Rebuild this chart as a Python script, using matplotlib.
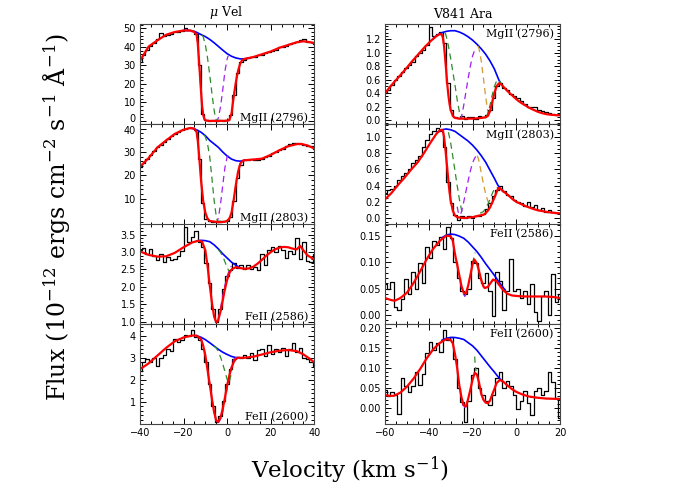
import matplotlib
matplotlib.use("Agg")
import matplotlib.pyplot as plt
import numpy as np
from matplotlib.ticker import AutoMinorLocator, FormatStrFormatter, MultipleLocator
from matplotlib.transforms import ScaledTranslation

# velocity grids of the observed spectra (km/s)
VEL_MUVEL = np.arange(-40, 40.01, 1.6)
VEL_V841 = np.arange(-60, 20.01, 1.6)

# ---------------- mu Vel, MgII 2796 ----------------
muvel_mg2796_obs = [32.0, 35.5, 38.5, 40.5, 42.0, 44.0, 47.5, 46.0, 46.5, 47.0,
                    47.8, 48.2, 48.6, 50.0, 49.0, 48.5, 47.0, 30.0, 4.0, 0.5,
                    0.0, 0.3, 0.0, 0.4, 0.2, 0.5, 3.5, 14.0, 26.0, 32.0,
                    33.0, 34.0, 34.5, 34.5, 35.5, 35.5, 36.8, 37.0, 38.0, 38.5,
                    39.8, 40.0, 40.5, 41.5, 42.0, 42.5, 43.8, 44.0, 42.5, 42.5, 41.5]
muvel_mg2796_fit_v = [-40, -36, -32, -28, -24, -20, -17, -15, -14, -13.5, -13, -12.5, -12,
                      -11.5, -11, -10.5, -10, -9, -4, 0, 1, 2, 3, 4, 5, 6, 7, 8, 12, 16,
                      20, 24, 28, 32, 35, 38, 40]
muvel_mg2796_fit = [32.5, 40.2, 43.5, 46.5, 48.0, 48.8, 48.8, 48.0, 46.5, 42, 34, 25, 16,
                    8, 3.5, 1.2, 0.4, 0.1, 0, 0.2, 0.5, 4, 13, 21, 27, 31, 33, 33.5, 34.5, 36,
                    37.5, 39.5, 41, 42.5, 43, 42.5, 42]
muvel_mg2796_cont_v = [-20, -17, -15, -14, -12, -10, -8, -6, -4, -2, 0, 2, 4, 6, 8, 10]
muvel_mg2796_cont = [48.8, 48.8, 48.3, 47.8, 46.6, 45.5, 44, 42.2, 40.2, 38.2, 36.3, 34.9,
                     34.0, 33.5, 33.5, 33.9]
muvel_mg2796_c1_v = [-11.5, -11, -10, -9, -8, -7, -6, -5.5, -5, 0, 1, 2, 3, 4]
muvel_mg2796_c1 = [46.2, 45.5, 41, 34, 25, 15, 6, 2.5, 0.5, 0, 0.5, 4, 13, 21]
muvel_mg2796_c2_v = [-14, -13.5, -13, -12.5, -12, -11.5, -11, -10.5, -10, -5, -4.5, -4, -3,
                     -2, -1, 0, 0.5]
muvel_mg2796_c2 = [46.5, 42, 34, 25, 16, 8, 3.5, 1.2, 0.4, 0, 0.5, 1.8, 8, 17, 27, 33.5, 35.2]

# ---------------- mu Vel, MgII 2803 ----------------
muvel_mg2803_obs = [23.5, 25.5, 27.0, 28.8, 30.5, 32.0, 33.2, 34.5, 35.8, 36.8,
                    37.8, 38.6, 39.3, 40.0, 40.5, 40.2, 39.5, 27.0, 8.0, 1.5,
                    0.4, 0.0, 0.2, 0.0, 0.3, 0.5, 2.0, 9.0, 19.0, 24.5,
                    26.5, 26.8, 27.0, 26.5, 26.8, 27.0, 28.0, 28.5, 29.5, 30.0,
                    30.8, 31.5, 32.5, 33.5, 33.8, 33.8, 33.5, 33.2, 32.8, 32.5, 31.5]
muvel_mg2803_fit_v = [-40, -36, -32, -28, -24, -20, -17, -15, -14, -13.5, -13, -12.5, -12,
                      -11, -10, -9, -8, -4, -1, 0, 1, 2, 3, 4, 5, 6, 7, 8, 12, 16, 20, 24,
                      28, 32, 34, 37, 40]
muvel_mg2803_fit = [23.7, 27.5, 32, 35, 37.8, 39.6, 40.3, 40, 38.5, 35, 30, 24, 18,
                    9, 4, 1.5, 0.5, 0, 0.2, 0.6, 1.5, 4, 9.5, 16, 21.5, 25, 26.2, 26.5, 26.8,
                    27.2, 28.8, 30.8, 32.5, 33.4, 33.5, 32.8, 31.5]
muvel_mg2803_cont_v = [-17, -16, -14, -12, -10, -8, -6, -4, -2, 0, 2, 4, 6, 8]
muvel_mg2803_cont = [40.3, 40.2, 39.5, 38.5, 37, 35, 33.5, 32, 30, 28.3, 27, 26.3, 26.1, 26.5]
muvel_mg2803_c1_v = [-10.5, -10, -9, -8, -7, -6, -5, -4.5, 0, 1, 2, 3, 4]
muvel_mg2803_c1 = [37.3, 36.5, 33.5, 28, 19, 9.5, 2.5, 0.5, 0.2, 1.5, 4, 9.5, 16]
muvel_mg2803_c2_v = [-14, -13.5, -13, -12.5, -12, -11, -10, -9, -8, -5, -4.5, -4, -3, -2,
                     -1, 0, 0.5]
muvel_mg2803_c2 = [38.5, 35, 30, 24, 18, 9, 4, 1.5, 0.5, 0, 0.5, 2, 8, 16, 23.5, 28, 28.6]

# ---------------- mu Vel, FeII 2586 ----------------
muvel_fe2586_obs = [3.05, 3.12, 2.95, 3.08, 2.90, 2.78, 2.95, 2.72, 2.85, 2.78,
                    2.80, 2.88, 3.02, 3.72, 3.30, 3.45, 3.62, 3.30, 3.15, 2.70,
                    2.10, 1.35, 1.00, 1.35, 1.95, 2.30, 2.48, 2.70, 2.55, 2.62,
                    2.52, 2.62, 2.50, 2.58, 2.48, 2.95, 2.62, 3.05, 3.15, 3.00,
                    3.18, 3.05, 2.82, 3.02, 2.95, 3.40, 2.80, 3.28, 2.75, 2.72, 2.95]
muvel_fe2586_fit_v = [-40, -36, -32, -28, -24, -20, -16, -13, -11.5, -10, -9, -8, -7, -6,
                      -5, -4.2, -3, -2, -1, 0, 1, 2, 4, 6, 8, 10, 12, 14, 16, 18, 20, 22,
                      24, 26, 28, 30, 32, 33.5, 35, 37, 40]
muvel_fe2586_fit = [3.02, 2.92, 2.87, 2.88, 2.98, 3.14, 3.28, 3.33, 3.3, 3.05, 2.6, 2.05,
                    1.55, 1.15, 0.98, 1.02, 1.3, 1.62, 1.95, 2.2, 2.4, 2.5, 2.57, 2.54,
                    2.52, 2.53, 2.58, 2.67, 2.78, 2.9, 3.0, 3.08, 3.13, 3.15, 3.14, 3.1,
                    3.08, 3.18, 3.05, 2.9, 2.79]
muvel_fe2586_cont_v = [-14, -12, -10, -8, -6, -4, -2, 0, 2, 4, 6]
muvel_fe2586_cont = [3.32, 3.34, 3.33, 3.3, 3.21, 3.09, 2.95, 2.83, 2.71, 2.62, 2.55]
muvel_fe2586_c1_v = [-4, -3, -2, -1, 0, 1, 2, 3]
muvel_fe2586_c1 = [3.07, 2.99, 2.88, 2.72, 2.55, 2.44, 2.47, 2.55]
muvel_fe2586_c2_v = [-6, -5, -4, -3, -2, -1, 0, 1, 2]
muvel_fe2586_c2 = [1.15, 0.98, 1.05, 1.4, 1.75, 2.05, 2.3, 2.5, 2.6]

# ---------------- mu Vel, FeII 2600 ----------------
muvel_fe2600_obs = [2.40, 2.82, 2.95, 2.80, 3.00, 2.62, 2.98, 3.12, 3.40, 3.30,
                    3.85, 3.70, 3.82, 4.02, 4.00, 4.28, 3.95, 3.82, 3.40, 2.80,
                    1.80, 0.80, 0.10, 0.35, 1.05, 1.80, 2.50, 2.95, 3.05, 3.00,
                    3.12, 3.00, 3.20, 2.90, 3.35, 3.42, 3.10, 3.58, 3.15, 3.40,
                    3.25, 3.45, 3.10, 3.40, 3.65, 3.25, 3.45, 3.00, 2.95, 2.82, 2.65]
muvel_fe2600_fit_v = [-40, -36, -32, -28, -24, -20, -16, -14, -12, -11, -10, -9, -8, -7,
                      -6, -5, -4, -3, -2, -1, 0, 1, 2, 3, 4, 5, 8, 12, 16, 20, 24, 28, 32,
                      35, 38, 40]
muvel_fe2600_fit = [2.48, 2.75, 3.1, 3.45, 3.75, 3.92, 4.01, 4.0, 3.85, 3.55, 3.1, 2.45,
                    1.8, 1.15, 0.55, 0.15, 0.1, 0.3, 0.7, 1.2, 1.75, 2.2, 2.55, 2.8, 2.95,
                    3.0, 3.0, 3.05, 3.15, 3.25, 3.32, 3.35, 3.3, 3.15, 2.95, 2.79]
muvel_fe2600_cont_v = [-14, -12, -10, -8, -6, -4, -2, 0, 2, 4, 6]
muvel_fe2600_cont = [4.0, 3.93, 3.82, 3.68, 3.53, 3.38, 3.25, 3.15, 3.06, 3.01, 3.0]
muvel_fe2600_c1_v = [-6, -5, -4, -3, -2, -1, 0, 0.8, 1.5, 2.2]
muvel_fe2600_c1 = [3.53, 3.45, 3.27, 3.02, 2.72, 2.37, 2.02, 1.85, 2.1, 2.5]
muvel_fe2600_c2_v = [-12, -11, -10, -9, -8, -7, -6, -5, -4, -3, -2, -1, 0, 1, 2, 3, 4]
muvel_fe2600_c2 = [3.85, 3.55, 3.1, 2.45, 1.8, 1.15, 0.55, 0.12, 0.08, 0.22, 0.55, 1.05,
                   1.6, 2.15, 2.6, 2.93, 3.02]

# ---------------- V841 Ara, MgII 2796 ----------------
v841_mg2796_obs = [0.40, 0.44, 0.52, 0.60, 0.66, 0.72, 0.78, 0.82, 0.86, 0.95,
                   1.00, 1.05, 1.12, 1.38, 1.25, 1.28, 1.31, 1.15, 0.55, 0.15,
                   0.05, 0.03, 0.06, 0.02, 0.04, 0.05, 0.01, 0.06, 0.04, 0.08,
                   0.15, 0.32, 0.50, 0.55, 0.48, 0.45, 0.38, 0.36, 0.32, 0.28,
                   0.24, 0.20, 0.19, 0.20, 0.15, 0.13, 0.12, 0.10, 0.09, 0.07, 0.09]
v841_mg2796_fit_v = [-60, -57, -54, -51, -48, -45, -42, -39, -36.5, -35, -34, -33.5, -33,
                     -32.5, -32, -31.5, -31, -30.5, -30, -29, -28, -26, -20, -16, -14, -13,
                     -12, -11, -10, -9, -8, -7, -6, -4, -2, 0, 2, 4, 6, 8, 10, 12, 14, 16,
                     18, 20]
v841_mg2796_fit = [0.40, 0.52, 0.63, 0.74, 0.86, 0.97, 1.08, 1.18, 1.25, 1.28, 1.27, 1.22,
                   1.1, 0.92, 0.72, 0.52, 0.36, 0.24, 0.15, 0.06, 0.03, 0.02, 0.02, 0.03,
                   0.04, 0.06, 0.13, 0.26, 0.4, 0.5, 0.545, 0.535, 0.5, 0.43, 0.37, 0.31,
                   0.26, 0.22, 0.18, 0.15, 0.12, 0.1, 0.085, 0.077, 0.072, 0.07]
v841_mg2796_cont_v = [-38, -36, -34, -32, -30, -28, -26, -24, -22, -20, -18, -16, -14, -12,
                      -10, -8, -7]
v841_mg2796_cont = [1.21, 1.265, 1.3, 1.32, 1.33, 1.33, 1.31, 1.28, 1.24, 1.19, 1.13, 1.06,
                    0.98, 0.88, 0.76, 0.6, 0.535]
v841_mg2796_c1_v = [-32.5, -32, -31, -30, -29, -28, -27, -26, -25, -24]
v841_mg2796_c1 = [1.3, 1.25, 1.1, 0.92, 0.72, 0.52, 0.3, 0.12, 0.03, 0.01]
v841_mg2796_c2_v = [-26, -25, -24, -23, -22, -21, -20, -19, -18.3]
v841_mg2796_c2 = [0.01, 0.05, 0.22, 0.42, 0.62, 0.8, 0.95, 1.04, 1.07]
v841_mg2796_c3_v = [-17.5, -17, -16, -15, -14, -13, -12.5]
v841_mg2796_c3 = [1.1, 1.06, 0.88, 0.62, 0.35, 0.12, 0.06]
v841_mg2796_c4_v = [-14, -13, -12, -11, -10, -9, -8, -7, -6]
v841_mg2796_c4 = [0.03, 0.1, 0.22, 0.37, 0.5, 0.58, 0.6, 0.55, 0.5]

# ---------------- V841 Ara, MgII 2803 ----------------
v841_mg2803_obs = [0.31, 0.34, 0.36, 0.39, 0.47, 0.52, 0.55, 0.61, 0.68, 0.72,
                   0.76, 0.88, 0.96, 1.04, 1.08, 1.11, 1.08, 0.88, 0.45, 0.18,
                   0.04, -0.02, 0.03, 0.0, 0.02, 0.0, 0.03, 0.02, 0.05, 0.11,
                   0.18, 0.27, 0.35, 0.39, 0.33, 0.29, 0.27, 0.22, 0.2, 0.18,
                   0.15, 0.2, 0.13, 0.16, 0.1, 0.12, 0.08, 0.1, 0.07, 0.06, 0.06]
v841_mg2803_fit_v = [-60, -57, -54, -51, -48, -45, -42, -39, -36.5, -35, -34, -33.5, -33,
                     -32.5, -32, -31.5, -31, -30.5, -30, -29, -28, -27, -24, -20, -17, -15,
                     -14, -13, -12, -11, -10, -9, -8.2, -7.5, -6, -4, -2, 0, 2, 4, 6, 8,
                     10, 12, 14, 16, 18, 20]
v841_mg2803_fit = [0.23, 0.31, 0.41, 0.5, 0.6, 0.69, 0.81, 0.94, 1.04, 1.08, 1.09, 1.07,
                   1.0, 0.88, 0.74, 0.6, 0.45, 0.32, 0.22, 0.09, 0.03, 0.01, 0.0, 0.01,
                   0.03, 0.04, 0.06, 0.09, 0.13, 0.19, 0.25, 0.32, 0.37, 0.37, 0.33, 0.29,
                   0.24, 0.2, 0.175, 0.15, 0.13, 0.11, 0.095, 0.085, 0.075, 0.067, 0.062,
                   0.058]
v841_mg2803_cont_v = [-36, -34, -32, -30, -28, -26, -24, -22, -20, -18, -16, -14, -12, -10,
                      -8.5, -7.5, -6]
v841_mg2803_cont = [1.06, 1.09, 1.1, 1.09, 1.07, 1.03, 0.99, 0.95, 0.9, 0.84, 0.77, 0.69,
                    0.59, 0.49, 0.41, 0.37, 0.33]
v841_mg2803_c1_v = [-31, -30, -29, -28, -27, -26, -25, -24.5]
v841_mg2803_c1 = [1.06, 0.93, 0.76, 0.58, 0.4, 0.23, 0.1, 0.05]
v841_mg2803_c2_v = [-27, -26.5, -26, -25.5, -25, -24, -23, -22, -21, -20, -19, -18.5]
v841_mg2803_c2 = [0.14, 0.07, 0.04, 0.04, 0.08, 0.2, 0.33, 0.46, 0.58, 0.68, 0.74, 0.76]
v841_mg2803_c3_v = [-17.8, -17, -16, -15, -14, -13, -12, -11]
v841_mg2803_c3 = [0.77, 0.7, 0.56, 0.42, 0.3, 0.21, 0.16, 0.18]
v841_mg2803_c4_v = [-16.5, -15, -14, -13, -12, -11, -10, -9, -8.2]
v841_mg2803_c4 = [0.06, 0.08, 0.12, 0.17, 0.23, 0.3, 0.36, 0.38, 0.37]

# ---------------- V841 Ara, FeII 2586 ----------------
v841_fe2586_obs = [0.058, 0.05, 0.062, 0.015, 0.01, 0.03, 0.068, 0.04, 0.082, 0.05,
                   0.098, 0.06, 0.128, 0.108, 0.14, 0.132, 0.148, 0.125, 0.166, 0.146,
                   0.1, 0.07, 0.045, 0.039, 0.05, 0.102, 0.098, 0.07, 0.06, 0.08,
                   0.045, -0.002, 0.082, 0.065, 0.01, 0.045, 0.105, 0.045, 0.05, 0.032,
                   0.045, 0.02, 0.058, 0.006, -0.012, 0.035, 0.045, 0.0, 0.077, 0.025, 0.04]
v841_fe2586_fit_v = [-60, -57, -55.5, -53, -50, -47, -44, -41, -38, -35, -32, -30, -29, -28,
                     -27, -26, -25, -24, -23, -22, -21, -20, -19.2, -18, -17, -16, -15,
                     -14.4, -13, -12, -10.6, -9, -8, -6, -4, -2, 0, 4, 8, 13, 17, 20]
v841_fe2586_fit = [0.032, 0.028, 0.027, 0.032, 0.042, 0.06, 0.082, 0.105, 0.125, 0.14,
                   0.15, 0.149, 0.14, 0.115, 0.095, 0.074, 0.054, 0.042, 0.041, 0.055,
                   0.075, 0.095, 0.105, 0.098, 0.083, 0.066, 0.054, 0.051, 0.053, 0.059,
                   0.067, 0.064, 0.058, 0.047, 0.04, 0.037, 0.036, 0.035, 0.035, 0.035,
                   0.034, 0.032]
v841_fe2586_cont_v = [-34, -32, -30, -28, -26, -24, -22, -20, -18, -16, -14, -12, -10, -8,
                      -6, -5]
v841_fe2586_cont = [0.146, 0.151, 0.153, 0.152, 0.149, 0.145, 0.138, 0.129, 0.12, 0.109,
                    0.097, 0.086, 0.075, 0.063, 0.052, 0.047]
v841_fe2586_c1_v = [-20, -19.2, -18.8]
v841_fe2586_c1 = [0.097, 0.112, 0.118]
v841_fe2586_c2_v = [-25.5, -24.5, -23.5, -22.5]
v841_fe2586_c2 = [0.06, 0.042, 0.035, 0.045]

# ---------------- V841 Ara, FeII 2600 ----------------
v841_fe2600_obs = [0.045, 0.03, 0.04, 0.032, -0.015, 0.074, 0.055, 0.04, 0.055, 0.09,
                   0.058, 0.085, 0.137, 0.166, 0.145, 0.162, 0.14, 0.196, 0.17, 0.178,
                   0.124, 0.049, 0.015, -0.035, 0.016, 0.082, 0.099, 0.05, 0.033, 0.016,
                   0.008, 0.033, 0.074, 0.091, 0.05, 0.067, 0.055, 0.033, -0.002, 0.016,
                   0.041, 0.012, -0.018, 0.041, 0.05, 0.033, 0.041, 0.091, 0.066, 0.025,
                   -0.027]
v841_fe2600_fit_v = [-60, -58, -56, -53, -50, -47, -44, -41, -38, -35, -32, -30, -29, -28,
                     -27, -26, -25, -24, -23, -22, -21, -20, -19, -18, -17, -16, -15, -14,
                     -13, -12, -11, -10, -9, -7.5, -6, -4, -2, 0, 3, 6, 10, 14, 20]
v841_fe2600_fit = [0.032, 0.03, 0.03, 0.038, 0.053, 0.073, 0.097, 0.124, 0.147, 0.163,
                   0.173, 0.171, 0.162, 0.135, 0.1, 0.055, 0.025, 0.006, 0.003, 0.022,
                   0.045, 0.07, 0.088, 0.084, 0.063, 0.035, 0.02, 0.013, 0.011, 0.018,
                   0.033, 0.047, 0.062, 0.07, 0.066, 0.056, 0.047, 0.04, 0.033, 0.028,
                   0.025, 0.023, 0.022]
v841_fe2600_cont_v = [-34, -32, -30, -28, -26, -24, -22, -20, -18, -16, -14, -12, -10, -8,
                      -7]
v841_fe2600_cont = [0.17, 0.175, 0.177, 0.177, 0.175, 0.172, 0.164, 0.156, 0.145, 0.131,
                    0.117, 0.103, 0.09, 0.076, 0.07]
v841_fe2600_c1_v = [-19.0, -18.8, -18.4]
v841_fe2600_c1 = [0.129, 0.11, 0.092]
v841_fe2600_c2_v = [-25, -24, -23]
v841_fe2600_c2 = [0.02, -0.003, 0.005]

GREEN = "#2e8b2e"
PURPLE = "#a020f0"
ORANGE = "#d09a30"
SERIF = "DejaVu Serif"

plt.rcParams["font.family"] = "DejaVu Sans"
plt.rcParams["mathtext.fontset"] = "dejavuserif"


def draw_panel(ax, vel, obs, fit_v, fit, cont_v, cont, comps, xlim, ylim,
               yticks, fmt, label, label_top):
    ax.step(vel, obs, where="mid", color="black", lw=0.9)
    ax.plot(cont_v, cont, color="#0000ff", lw=1.2)
    for comp_v, comp, color in comps:
        ax.plot(comp_v, comp, color=color, lw=0.9, dashes=(5, 3.5))
    ax.plot(fit_v, fit, color="#ff0000", lw=1.6)

    ax.set_xlim(*xlim)
    ax.set_ylim(*ylim)
    ax.set_yticks(yticks)
    ax.yaxis.set_major_formatter(FormatStrFormatter(fmt))
    ax.yaxis.set_minor_locator(AutoMinorLocator())
    ax.xaxis.set_major_locator(MultipleLocator(20))
    ax.xaxis.set_minor_locator(MultipleLocator(5))
    ax.tick_params(which="both", direction="in", top=True, right=True,
                   labelsize=7, width=0.7, pad=3)
    ax.tick_params(which="major", length=4.5)
    ax.tick_params(which="minor", length=2.2)
    for spine in ax.spines.values():
        spine.set_linewidth(0.8)
        spine.set_color("#444444")

    if label_top:
        ax.text(0.965, 0.9, label, transform=ax.transAxes, ha="right",
                va="center", fontsize=8, family=SERIF)
    else:
        ax.text(0.965, 0.065, label, transform=ax.transAxes, ha="right",
                va="center", fontsize=8, family=SERIF)


fig = plt.figure(figsize=(7, 5), dpi=100)

bottoms = [0.752, 0.551, 0.352, 0.152]
left_axes = [fig.add_axes([0.2, b, 0.249, 0.2]) for b in bottoms]
right_axes = [fig.add_axes([0.55, b, 0.25, 0.2]) for b in bottoms]

left_setup = [
    (muvel_mg2796_obs, muvel_mg2796_fit_v, muvel_mg2796_fit, muvel_mg2796_cont_v,
     muvel_mg2796_cont,
     [(muvel_mg2796_c1_v, muvel_mg2796_c1, GREEN), (muvel_mg2796_c2_v, muvel_mg2796_c2, PURPLE)],
     (-1.6, 52.3), [0, 10, 20, 30, 40, 50], "%d", "MgII (2796)"),
    (muvel_mg2803_obs, muvel_mg2803_fit_v, muvel_mg2803_fit, muvel_mg2803_cont_v,
     muvel_mg2803_cont,
     [(muvel_mg2803_c1_v, muvel_mg2803_c1, GREEN), (muvel_mg2803_c2_v, muvel_mg2803_c2, PURPLE)],
     (-1.0, 41.8), [10, 20, 30, 40], "%d", "MgII (2803)"),
    (muvel_fe2586_obs, muvel_fe2586_fit_v, muvel_fe2586_fit, muvel_fe2586_cont_v,
     muvel_fe2586_cont,
     [(muvel_fe2586_c1_v, muvel_fe2586_c1, GREEN), (muvel_fe2586_c2_v, muvel_fe2586_c2, PURPLE)],
     (0.93, 3.81), [1.0, 1.5, 2.0, 2.5, 3.0, 3.5], "%.1f", "FeII (2586)"),
    (muvel_fe2600_obs, muvel_fe2600_fit_v, muvel_fe2600_fit, muvel_fe2600_cont_v,
     muvel_fe2600_cont,
     [(muvel_fe2600_c1_v, muvel_fe2600_c1, GREEN), (muvel_fe2600_c2_v, muvel_fe2600_c2, PURPLE)],
     (0.0, 4.53), [1, 2, 3, 4], "%d", "FeII (2600)"),
]

right_setup = [
    (v841_mg2796_obs, v841_mg2796_fit_v, v841_mg2796_fit, v841_mg2796_cont_v,
     v841_mg2796_cont,
     [(v841_mg2796_c1_v, v841_mg2796_c1, GREEN), (v841_mg2796_c2_v, v841_mg2796_c2, PURPLE),
      (v841_mg2796_c3_v, v841_mg2796_c3, ORANGE), (v841_mg2796_c4_v, v841_mg2796_c4, GREEN)],
     (-0.06, 1.43), [0.0, 0.2, 0.4, 0.6, 0.8, 1.0, 1.2], "%.1f", "MgII (2796)"),
    (v841_mg2803_obs, v841_mg2803_fit_v, v841_mg2803_fit, v841_mg2803_cont_v,
     v841_mg2803_cont,
     [(v841_mg2803_c1_v, v841_mg2803_c1, GREEN), (v841_mg2803_c2_v, v841_mg2803_c2, PURPLE),
      (v841_mg2803_c3_v, v841_mg2803_c3, ORANGE), (v841_mg2803_c4_v, v841_mg2803_c4, GREEN)],
     (-0.08, 1.155), [0.0, 0.2, 0.4, 0.6, 0.8, 1.0], "%.1f", "MgII (2803)"),
    (v841_fe2586_obs, v841_fe2586_fit_v, v841_fe2586_fit, v841_fe2586_cont_v,
     v841_fe2586_cont,
     [(v841_fe2586_c1_v, v841_fe2586_c1, GREEN), (v841_fe2586_c2_v, v841_fe2586_c2, PURPLE)],
     (-0.017, 0.172), [0.0, 0.05, 0.10, 0.15], "%.2f", "FeII (2586)"),
    (v841_fe2600_obs, v841_fe2600_fit_v, v841_fe2600_fit, v841_fe2600_cont_v,
     v841_fe2600_cont,
     [(v841_fe2600_c1_v, v841_fe2600_c1, GREEN), (v841_fe2600_c2_v, v841_fe2600_c2, PURPLE)],
     (-0.041, 0.211), [0.0, 0.05, 0.10, 0.15, 0.20], "%.2f", "FeII (2600)"),
]

for row, (ax, setup) in enumerate(zip(left_axes, left_setup)):
    obs, fit_v, fit, cont_v, cont, comps, ylim, yticks, fmt, label = setup
    draw_panel(ax, VEL_MUVEL, obs, fit_v, fit, cont_v, cont, comps, (-40, 40),
               ylim, yticks, fmt, label, label_top=False)
    if row < 3:
        ax.tick_params(labelbottom=False)

for row, (ax, setup) in enumerate(zip(right_axes, right_setup)):
    obs, fit_v, fit, cont_v, cont, comps, ylim, yticks, fmt, label = setup
    draw_panel(ax, VEL_V841, obs, fit_v, fit, cont_v, cont, comps, (-60, 20),
               ylim, yticks, fmt, label, label_top=True)
    if row < 3:
        ax.tick_params(labelbottom=False)

# the "0" of the top panel and the "40" of the next one nearly touch: nudge them apart
zero_label = left_axes[0].yaxis.get_major_ticks()[0].label1
zero_label.set_transform(zero_label.get_transform()
                         + ScaledTranslation(0, 0.03, fig.dpi_scale_trans))
forty_label = left_axes[1].yaxis.get_major_ticks()[-1].label1
forty_label.set_transform(forty_label.get_transform()
                          + ScaledTranslation(0, -0.015, fig.dpi_scale_trans))

left_axes[0].text(0.494, 1.03, r"$\mu$ Vel", transform=left_axes[0].transAxes,
                  ha="center", va="bottom", fontsize=9, family=SERIF)
right_axes[0].text(0.446, 1.03, "V841 Ara", transform=right_axes[0].transAxes,
                   ha="center", va="bottom", fontsize=9, family=SERIF)

fig.text(0.082, 0.565, r"Flux (10$^{-12}$ ergs cm$^{-2}$ s$^{-1}$ Å$^{-1}$)",
         rotation=90, ha="center", va="center", fontsize=17, family=SERIF)
fig.text(0.5, 0.06, r"Velocity (km s$^{-1}$)", ha="center", va="center",
         fontsize=16.5, family=SERIF)

fig.savefig("out.png", dpi=100)
